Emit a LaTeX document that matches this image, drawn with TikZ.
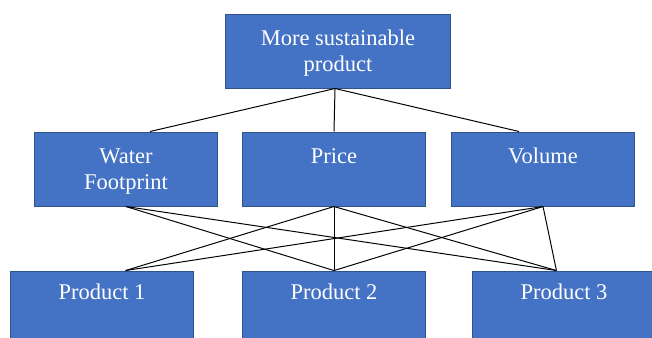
\documentclass[tikz,border=0pt]{standalone}
\usepackage{fontspec}
\setmainfont{Liberation Serif}
\usepackage{tikz}
\usetikzlibrary{positioning}
\definecolor{blockblue}{HTML}{4472C4}
\definecolor{blockedge}{HTML}{2F528F}

\begin{document}
\begin{tikzpicture}[x=0.025cm,y=0.025cm,
    font=\rmfamily\fontsize{16}{18.4}\selectfont,
    block/.style={draw=blockedge, fill=blockblue, text=white,
        line width=0.7pt, minimum width=4.575cm, minimum height=1.85cm,
        text height=0.59cm, text depth=0.88cm, align=center},
    twolines/.style={text height=1.24cm, text depth=0.23cm},
    link/.style={line width=0.7pt}]

\useasboundingbox (0,0) rectangle (652,-337);
\clip (0,0) rectangle (652,-337);

\node[block, twolines,
    minimum width=5.6cm
] (goal) at (338,-51) {More sustainable\\product};

\node[block,
    below=1.075cm of goal,
    xshift=-0.1cm
] (price) {Price};

\node[block, twolines,
    left=0.6cm of price
] (water) {Water\\Footprint};

\node[block,
    right=0.625cm of price
] (volume) {Volume};

\node[block,
    below=1.6cm of price,
    text depth=1.6cm
] (prod2) {Product 2};

\node[block,
    left=1.2cm of prod2,
    text depth=1.6cm
] (prod1) {Product 1};

\node[block,
    right=1.15cm of prod2,
    text depth=1.6cm
] (prod3) {Product 3};

\draw[link] ([xshift=-0.075cm]goal.south) -- ([xshift=0.6cm]water.north);
\draw[link] ([xshift=-0.075cm]goal.south) -- (price.north);
\draw[link] ([xshift=-0.075cm]goal.south) -- ([xshift=-0.6cm]volume.north);

\draw[link] (water.south) -- (prod2.north);
\draw[link] (water.south) -- ([xshift=-0.19cm]prod3.north);

\draw[link] (price.south) -- ([xshift=0.59cm]prod1.north);
\draw[link] (price.south) -- (prod2.north);
\draw[link] (price.south) -- ([xshift=-0.19cm]prod3.north);

\draw[link] (volume.south) -- ([xshift=0.59cm]prod1.north);
\draw[link] (volume.south) -- (prod2.north);
\draw[link] (volume.south) -- ([xshift=-0.19cm]prod3.north);

\end{tikzpicture}
\end{document}
